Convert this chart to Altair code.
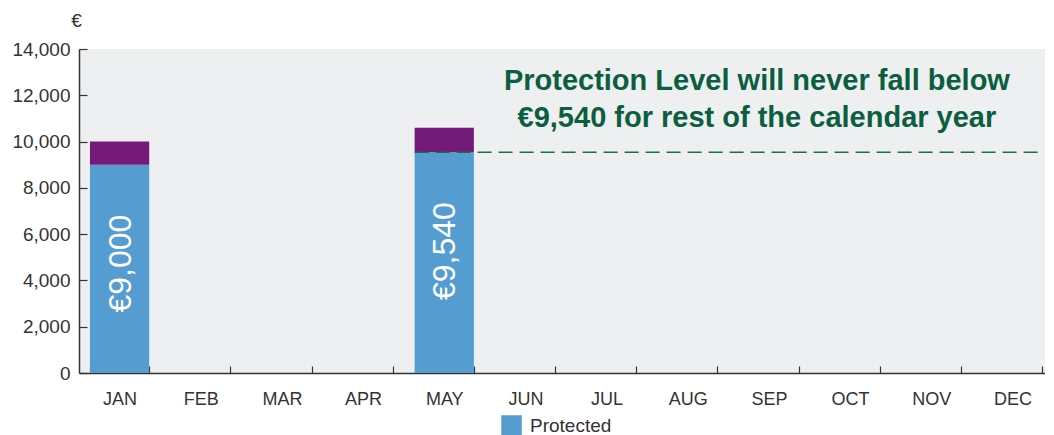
import altair as alt
import pandas as pd

months = ["JAN", "FEB", "MAR", "APR", "MAY", "JUN", "JUL", "AUG", "SEP", "OCT", "NOV", "DEC"]
bar_months = ["JAN", "MAY"]
protected = [9000, 9540]
total = [10000, 10600]
labels = ["€9,000", "€9,540"]

floor_value = 9540
floor_start = "MAY"
floor_end = "DEC"
note_lines = ["Protection Level will never fall below", "€9,540 for rest of the calendar year"]
note_month = "SEP"
note_value = 12620

BLUE = "#559dd1"
PURPLE = "#741a78"
GREEN = "#0b5e3e"
FONT = "Liberation Sans"

bars = pd.DataFrame({"month": bar_months, "protected": protected, "total": total,
                     "label": labels, "series": ["Protected"] * len(bar_months)})
floor = pd.DataFrame({"start": [floor_start], "end": [floor_end], "value": [floor_value]})
note = pd.DataFrame({"month": [note_month], "value": [note_value], "text": [note_lines]})

xscale = alt.Scale(domain=months, paddingInner=0.27, paddingOuter=0.135)
yscale = alt.Scale(domain=[0, 14000], nice=False)

xaxis = alt.Axis(title=None, labelAngle=0, tickBand="extent", tickSize=alt.ExprRef("-7"),
                 labelPadding=24, labelFontSize=18, labelColor="#333333", labelFont=FONT,
                 domainColor="#333333", domainWidth=1.5, tickColor="#333333", tickWidth=1.2,
                 grid=False)
yaxis = alt.Axis(title="€", titleAngle=0, titleX=-3, titleY=-29, titleAlign="center",
                 titleBaseline="middle", titleFontSize=19, titleFontWeight="normal",
                 titleColor="#333333", titleFont=FONT,
                 values=list(range(0, 14001, 2000)), format=",.0f", tickSize=alt.ExprRef("-8"),
                 labelPadding=17, labelFontSize=19, labelColor="#333333", labelFont=FONT,
                 domainColor="#333333", domainWidth=1.5, tickColor="#333333", tickWidth=1.2,
                 grid=False)

base = alt.Chart(bars)

blue = base.mark_bar().encode(
    x=alt.X("month:N", scale=xscale, axis=xaxis, sort=months),
    y=alt.Y("protected:Q", scale=yscale, axis=yaxis),
    color=alt.Color("series:N", scale=alt.Scale(domain=["Protected"], range=[BLUE]),
                    legend=alt.Legend(title=None, orient="none", legendX=422, legendY=366,
                                      symbolType="square", symbolSize=420, symbolStrokeWidth=0,
                                      labelFontSize=19, labelColor="#333333", labelFont=FONT,
                                      padding=0, labelOffset=8)),
)

purple = base.mark_bar(color=PURPLE).encode(
    x=alt.X("month:N", scale=xscale, sort=months),
    y=alt.Y("protected:Q", scale=yscale),
    y2="total:Q",
)

bar_text = base.mark_text(angle=270, align="right", baseline="middle", dx=-50, dy=1,
                          fontSize=32, color="white", font=FONT).encode(
    x=alt.X("month:N", scale=xscale, sort=months),
    y=alt.Y("protected:Q", scale=yscale),
    text="label:N",
)

rule = alt.Chart(floor).mark_rule(color="#1b6b4e", strokeWidth=1.5, strokeDash=[14, 7]).encode(
    x=alt.X("start:N", scale=xscale, bandPosition=0),
    x2=alt.X2("end:N", bandPosition=1),
    y=alt.Y("value:Q", scale=yscale),
)

note_text = alt.Chart(note).mark_text(fontSize=29, fontWeight="bold", color=GREEN, font=FONT,
                                      align="center", baseline="middle", lineHeight=37, dx=-12).encode(
    x=alt.X("month:N", scale=xscale),
    y=alt.Y("value:Q", scale=yscale),
    text="text",
)

chart = alt.layer(blue, purple, rule, bar_text, note_text).properties(
    width=974, height=324,
    padding={"left": 3, "top": 3, "right": -8, "bottom": 0},
).configure(background="white").configure_view(fill="#eeeff1", stroke=None)

chart.save("out.html", embed_options={"renderer": "svg", "actions": False})
